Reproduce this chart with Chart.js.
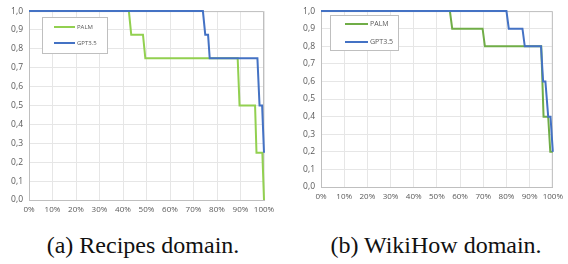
<!DOCTYPE html>
<html>
<head>
<meta charset="utf-8">
<script src="https://cdn.jsdelivr.net/npm/chart.js@4/dist/chart.umd.min.js"></script>
<style>
  body { margin: 0; background: #fff; width: 568px; height: 264px; position: relative; overflow: hidden; }
  .box { position: absolute; }
  .cap { position: absolute; top: 232px; font-family: "Liberation Serif", serif; font-size: 24px; color: #111; transform: translateX(-50%); white-space: nowrap; }
</style>
</head>
<body>
<div class="box" style="left:0;top:0;width:284px;height:220px"><canvas id="recipes"></canvas></div>
<div class="box" style="left:284px;top:0;width:284px;height:207px"><canvas id="wikihow"></canvas></div>
<div class="cap" style="left:143px">(a) Recipes domain.</div>
<div class="cap" style="left:436px">(b) WikiHow domain.</div>
<script>
// step curves, x = share of tasks (%), y = score
var recipesPalmX = [0, 42.5, 43.5, 48.5, 49.5, 88.8, 89.6, 96.2, 96.8, 99.3, 100];
var recipesPalmY = [1, 1, 0.875, 0.875, 0.75, 0.75, 0.5, 0.5, 0.25, 0.25, 0];
var recipesGptX = [0, 74, 75, 76.2, 76.9, 97.2, 98.1, 99.2, 100];
var recipesGptY = [1, 1, 0.875, 0.875, 0.75, 0.75, 0.5, 0.5, 0.25];

var wikiPalmX = [0, 55.6, 56.6, 69.7, 70.7, 95, 96, 98, 98.9, 100];
var wikiPalmY = [1, 1, 0.9, 0.9, 0.8, 0.8, 0.4, 0.4, 0.2, 0.2];
var wikiGptX = [0, 80, 81, 86.9, 87.9, 94.9, 95.8, 96.8, 98, 99, 100];
var wikiGptY = [1, 1, 0.9, 0.9, 0.8, 0.8, 0.6, 0.6, 0.4, 0.4, 0.2];

var seriesNames = ['PALM', 'GPT3.5'];
var xTicks = [0, 10, 20, 30, 40, 50, 60, 70, 80, 90, 100];
var yTicks = [0, 0.1, 0.2, 0.3, 0.4, 0.5, 0.6, 0.7, 0.8, 0.9, 1];

function pts(xs, ys) {
    return xs.map(function (x, i) { return { x: x, y: ys[i] }; });
}

// legend box drawn inside the plot area
var boxLegend = {
    id: 'boxLegend',
    afterDraw: function (chart, args, opts) {
        var ctx = chart.ctx;
        ctx.save();
        ctx.strokeStyle = '#bfbfbf';
        ctx.lineWidth = 1;
        ctx.fillStyle = '#fff';
        ctx.fillRect(opts.x + 0.5, opts.y + 0.5, opts.w, opts.h);
        ctx.strokeRect(opts.x + 0.5, opts.y + 0.5, opts.w, opts.h);
        chart.data.datasets.forEach(function (ds, i) {
            var y = opts.rows[i];
            ctx.strokeStyle = ds.borderColor;
            ctx.lineWidth = 2;
            ctx.beginPath();
            ctx.moveTo(opts.lx1, y);
            ctx.lineTo(opts.lx2, y);
            ctx.stroke();
            ctx.fillStyle = '#595959';
            ctx.font = opts.size + 'px "Open Sans", sans-serif';
            ctx.textBaseline = 'middle';
            ctx.fillText(ds.label, opts.lx2 + 2, y);
        });
        ctx.restore();
    }
};

function makeChart(id, palm, gpt, green, pad, legendOpts) {
    return new Chart(document.getElementById(id), {
        type: 'line',
        data: {
            datasets: [
                { label: seriesNames[0], data: palm, borderColor: green, borderWidth: 2, pointRadius: 0, tension: 0, order: 1, clip: 4 },
                { label: seriesNames[1], data: gpt, borderColor: '#4472c4', borderWidth: 2, pointRadius: 0, tension: 0, order: 0, clip: 4 }
            ]
        },
        options: {
            responsive: true,
            maintainAspectRatio: false,
            animation: false,
            layout: { padding: { top: 6, right: pad.right, bottom: 0, left: 0 } },
            plugins: { legend: { display: false }, tooltip: { enabled: false }, boxLegend: legendOpts },
            scales: {
                x: {
                    type: 'linear', min: 0, max: 100,
                    afterBuildTicks: function (s) { s.ticks = xTicks.map(function (v) { return { value: v }; }); },
                    afterFit: function (s) { s.height = 20; },
                    grid: { color: '#e6e6e6', drawTicks: false },
                    border: { color: '#bfbfbf' },
                    ticks: { color: '#595959', font: { family: 'Open Sans', size: 8 }, padding: 5, maxRotation: 0, autoSkip: false,
                        callback: function (v) { return v + '%'; } }
                },
                y: {
                    min: 0, max: 1,
                    afterBuildTicks: function (s) { s.ticks = yTicks.map(function (v) { return { value: v }; }); },
                    afterFit: function (s) { s.width = pad.left; },
                    grid: { color: '#e6e6e6', drawTicks: false },
                    border: { color: '#bfbfbf' },
                    ticks: { color: '#595959', font: { family: 'Open Sans', size: 8.5 }, padding: 6,
                        callback: function (v) { return v.toFixed(1).replace('.', ','); } }
                }
            }
        },
        plugins: [boxLegend, {
            id: 'frame',
            beforeDatasetsDraw: function (chart) {
                var a = chart.chartArea, ctx = chart.ctx;
                ctx.save();
                ctx.strokeStyle = '#bfbfbf';
                ctx.lineWidth = 1;
                ctx.beginPath();
                ctx.moveTo(a.left, a.top + 0.5);
                ctx.lineTo(a.right - 0.5, a.top + 0.5);
                ctx.lineTo(a.right - 0.5, a.bottom);
                ctx.stroke();
                ctx.restore();
            }
        }]
    });
}

makeChart('recipes', pts(recipesPalmX, recipesPalmY), pts(recipesGptX, recipesGptY), '#92d050',
    { left: 29, right: 20 },
    { x: 42, y: 17, w: 65, h: 36, lx1: 54, lx2: 75, rows: [27, 43], size: 6 });
makeChart('wikihow', pts(wikiPalmX, wikiPalmY), pts(wikiGptX, wikiGptY), '#70ad47',
    { left: 37, right: 11 },
    { x: 46, y: 15, w: 68, h: 35, lx1: 61, lx2: 84, rows: [24, 42], size: 7 });
</script>
</body>
</html>
